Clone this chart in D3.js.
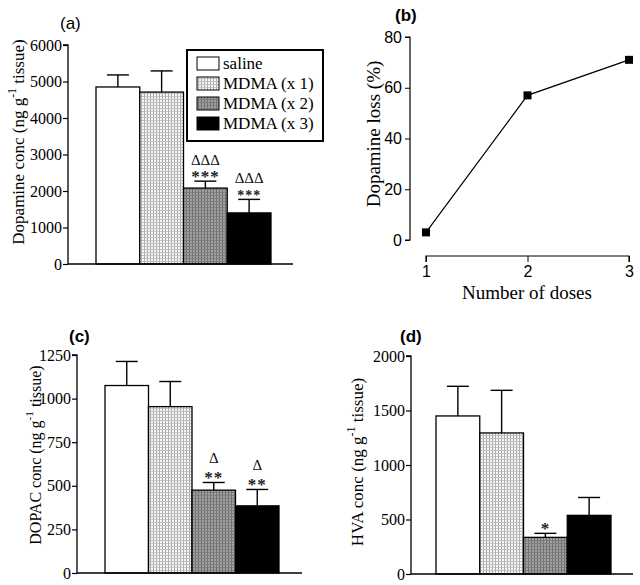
<!DOCTYPE html>
<html><head><meta charset="utf-8">
<script src="https://cdn.jsdelivr.net/npm/d3@7"></script>
<style>body{margin:0;background:#fff}</style></head>
<body><svg id="c" width="640" height="585"></svg>
<script>
// ---------- data ----------
const groups = ["saline", "MDMA (x 1)", "MDMA (x 2)", "MDMA (x 3)"];
const dopamine = [4850, 4710, 2080, 1400];
const dopamineSem = [330, 580, 190, 370];
const dopamineTicks = [0, 1000, 2000, 3000, 4000, 5000, 6000];
const dopamineStars = ["", "", "***", "***"];
const dopamineDeltas = ["", "", "ΔΔΔ", "ΔΔΔ"];

const doses = [1, 2, 3];
const dopamineLoss = [3, 57, 71];
const lossTicks = [0, 20, 40, 60, 80];

const dopac = [1075, 954, 475, 385];
const dopacSem = [138, 144, 44, 94];
const dopacTicks = [0, 250, 500, 750, 1000, 1250];
const dopacStars = ["", "", "**", "**"];
const dopacDeltas = ["", "", "Δ", "Δ"];

const hva = [1450, 1294, 336, 538];
const hvaSem = [272, 391, 37, 164];
const hvaTicks = [0, 500, 1000, 1500, 2000];
const hvaStars = ["", "", "*", ""];
const hvaDeltas = ["", "", "", ""];

// ---------- setup ----------
const svg = d3.select("#c");
svg.append("rect").attr("width", 640).attr("height", 585).attr("fill", "#fff");
const SERIF = "'Liberation Serif','Times New Roman',serif";
const SANS = "'Liberation Sans',Arial,sans-serif";

const defs = svg.append("defs");
const p1 = defs.append("pattern").attr("id", "pat1").attr("patternUnits", "userSpaceOnUse")
  .attr("width", 3).attr("height", 3);
p1.append("rect").attr("width", 3).attr("height", 3).attr("fill", "#f6f6f6");
p1.append("rect").attr("width", 1).attr("height", 3).attr("fill", "#a8a8a8");
p1.append("rect").attr("width", 3).attr("height", 1).attr("fill", "#c0c0c0");
const p2 = defs.append("pattern").attr("id", "pat2").attr("patternUnits", "userSpaceOnUse")
  .attr("width", 3).attr("height", 3);
p2.append("rect").attr("width", 3).attr("height", 3).attr("fill", "#a0a0a0");
p2.append("rect").attr("width", 1).attr("height", 3).attr("fill", "#6e6e6e");
p2.append("rect").attr("width", 3).attr("height", 1).attr("fill", "#7e7e7e");
const fills = ["#ffffff", "url(#pat1)", "url(#pat2)", "#000000"];

function yTitle(g, x, y, main, after, size) {
  const t = g.append("text").attr("transform", `translate(${x},${y}) rotate(-90)`)
    .attr("text-anchor", "middle").attr("dominant-baseline", "central")
    .style("font-family", SERIF).style("font-size", size + "px");
  t.append("tspan").text(main);
  t.append("tspan").style("font-size", (size * 0.7) + "px").attr("dy", -6).text("-1");
  t.append("tspan").attr("dy", 6).text(after);
}

function barPanel(o) {
  const g = svg.append("g");
  const y = d3.scaleLinear().domain([0, o.max]).range([o.yBottom, o.yTop]);
  const x = d3.scaleBand().domain(groups).range([o.barX0, o.barX1]).padding(0);
  g.selectAll("rect.bar").data(o.values).join("rect").attr("class", "bar")
    .attr("x", (d, i) => x(groups[i])).attr("width", x.bandwidth())
    .attr("y", d => y(d)).attr("height", d => o.yBottom - y(d))
    .attr("fill", (d, i) => fills[i]).attr("stroke", "#000").attr("stroke-width", 1.3);
  o.values.forEach((v, i) => {
    const cx = x(groups[i]) + x.bandwidth() / 2;
    const top = y(v + o.sems[i]);
    g.append("line").attr("x1", cx).attr("x2", cx).attr("y1", y(v)).attr("y2", top)
      .attr("stroke", "#000").attr("stroke-width", 1.4);
    g.append("line").attr("x1", cx - 11).attr("x2", cx + 11).attr("y1", top).attr("y2", top)
      .attr("stroke", "#000").attr("stroke-width", 1.4);
    if (o.stars[i]) g.append("text").attr("x", cx).attr("y", top + 1)
      .attr("text-anchor", "middle").style("font-family", SERIF)
      .style("font-weight", "bold").style("font-size", o.starSize[i] + "px").attr("letter-spacing", 1)
      .attr("fill", "#222").text(o.stars[i]);
    if (o.deltas[i]) g.append("text").attr("x", cx).attr("y", top - o.deltaOff)
      .attr("text-anchor", "middle").style("font-family", SERIF).style("font-size", "15px")
      .attr("fill", "#111").text(o.deltas[i]);
  });
  const ax = g.append("g").attr("transform", `translate(${o.axisX},0)`)
    .call(d3.axisLeft(y).tickValues(o.ticks).tickSize(5).tickPadding(1).tickFormat(d3.format("d")));
  ax.select(".domain").attr("d", `M-5,${o.yTop}H0V${o.yBottom}`).attr("stroke-width", 1.3);
  ax.selectAll(".tick line").attr("stroke-width", 1.2);
  ax.selectAll("text").style("font-family", SERIF).style("font-size", "16px").attr("fill", "#000");
  g.append("line").attr("x1", o.axisX).attr("x2", o.baseEnd).attr("y1", o.yBottom).attr("y2", o.yBottom)
    .attr("stroke", "#000").attr("stroke-width", 1.3);
  yTitle(g, o.titleX, o.titleY, o.title1, o.title2, o.titleSize);
  g.append("text").attr("x", o.labX).attr("y", o.labY).style("font-family", SANS)
    .style("font-size", "17px").style("font-weight", o.bold ? "bold" : "normal").text(o.label);
  return g;
}

barPanel({ values: dopamine, sems: dopamineSem, ticks: dopamineTicks, stars: dopamineStars, deltas: dopamineDeltas,
  starSize: [17, 17, 17, 14], deltaOff: 16, titleSize: 17,
  max: 6000, yTop: 45, yBottom: 264, axisX: 68, barX0: 96, barX1: 271, baseEnd: 293,
  titleX: 18, titleY: 142, title1: "Dopamine conc (ng g", title2: " tissue)", label: "(a)", labX: 60, labY: 29, bold: false });
barPanel({ values: dopac, sems: dopacSem, ticks: dopacTicks, stars: dopacStars, deltas: dopacDeltas,
  starSize: [17, 17, 17, 17], deltaOff: 19, titleSize: 16,
  max: 1250, yTop: 355, yBottom: 573, axisX: 77, barX0: 105, barX1: 279, baseEnd: 302,
  titleX: 35, titleY: 455, title1: "DOPAC conc (ng g", title2: " tissue)", label: "(c)", labX: 69, labY: 342, bold: true });
barPanel({ values: hva, sems: hvaSem, ticks: hvaTicks, stars: hvaStars, deltas: hvaDeltas,
  starSize: [17, 17, 17, 17], deltaOff: 19, titleSize: 17,
  max: 2000, yTop: 356, yBottom: 574, axisX: 411, barX0: 436, barX1: 611, baseEnd: 633,
  titleX: 357, titleY: 462, title1: "HVA conc (ng g", title2: " tissue)", label: "(d)", labX: 400, labY: 342, bold: true });

// legend
const lg = svg.append("g");
lg.append("rect").attr("x", 187).attr("y", 50).attr("width", 136).attr("height", 91)
  .attr("fill", "#fff").attr("stroke", "#000").attr("stroke-width", 2);
groups.forEach((gname, i) => {
  const yy = 57 + i * 20;
  lg.append("rect").attr("x", 197).attr("y", yy).attr("width", 22).attr("height", 13)
    .attr("fill", fills[i]).attr("stroke", "#000").attr("stroke-width", 1);
  lg.append("text").attr("x", 223).attr("y", yy + 12).style("font-family", SERIF).style("font-size", "17px")
    .text(gname);
});

// panel b
(function () {
  const g = svg.append("g");
  const x = d3.scaleLinear().domain([1, 3]).range([426, 629]);
  const y = d3.scaleLinear().domain([0, 80]).range([240, 37]);
  const ay = g.append("g").attr("transform", "translate(410,0)")
    .call(d3.axisLeft(y).tickValues(lossTicks).tickSize(5).tickPadding(3));
  ay.select(".domain").attr("d", "M-5,37H0V240H-5").attr("stroke-width", 1.2);
  ay.selectAll("text").style("font-family", SANS).style("font-size", "16px").attr("fill", "#000");
  const ax = g.append("g").attr("transform", "translate(0,256)")
    .call(d3.axisBottom(x).tickValues(doses).tickSize(6).tickPadding(4).tickFormat(d3.format("d")));
  ax.select(".domain").attr("d", "M426,6V0H629V6").attr("stroke-width", 1.2);
  ax.selectAll("text").style("font-family", SANS).style("font-size", "16px").attr("fill", "#000");
  g.append("path").datum(doses.map((d, i) => [d, dopamineLoss[i]]))
    .attr("d", d3.line().x(d => x(d[0])).y(d => y(d[1])))
    .attr("fill", "none").attr("stroke", "#000").attr("stroke-width", 1.2);
  g.selectAll("rect.pt").data(doses).join("rect").attr("class", "pt")
    .attr("x", (d) => x(d) - 4).attr("y", (d, i) => y(dopamineLoss[i]) - 4)
    .attr("width", 8).attr("height", 8).attr("fill", "#000");
  g.append("text").attr("transform", "translate(373,134) rotate(-90)").attr("text-anchor", "middle")
    .attr("dominant-baseline", "central").style("font-family", SERIF).style("font-size", "19px")
    .text("Dopamine loss (%)");
  g.append("text").attr("x", 527).attr("y", 299).attr("text-anchor", "middle")
    .style("font-family", SERIF).style("font-size", "19px").text("Number of doses");
  g.append("text").attr("x", 395).attr("y", 21).style("font-family", SANS).style("font-size", "17px")
    .style("font-weight", "bold").text("(b)");
})();
</script></body></html>
